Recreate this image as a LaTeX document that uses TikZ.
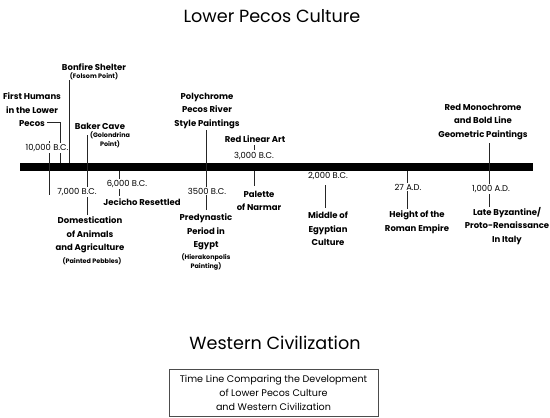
\documentclass[tikz,border=0pt]{standalone}
\usepackage{fontspec}
\setmainfont{Poppins}
\begin{document}
\begin{tikzpicture}[x=1pt,y=-1pt,
 title/.style={font=\fontsize{17.6}{20}\selectfont, inner sep=0pt},
 lbl/.style={font=\fontsize{8.5}{13.5}\selectfont\bfseries, align=center, inner sep=0pt},
 sm/.style={font=\fontsize{6.4}{9}\selectfont\bfseries, align=center, inner sep=0pt},
 yr/.style={font=\fontsize{8.4}{9}\selectfont, inner sep=1pt, fill=white},
 cp/.style={font=\fontsize{9.6}{14}\selectfont, align=center, inner sep=0pt},
 ln/.style={line width=0.7pt, black!85}]
\useasboundingbox (0,0) rectangle (550,418);
\node[title] (ttl) at (272,16) {Lower Pecos Culture};
\node[fill=black, minimum width=513pt, minimum height=8pt, inner sep=0pt] (bar) at (276.5,167) {};

% connector coordinates
\coordinate (c10k) at (49,141);
\coordinate (c10kb) at (49,195);
\coordinate (cfh1) at (47,122);
\coordinate (cfh2) at (60,122);
\coordinate (cbon) at (69,80);
\coordinate (cbak) at (87,135);
\coordinate (cbakb) at (87,215);
\coordinate (c6k) at (119,171);
\coordinate (c6kb) at (119,196);
\coordinate (cpoly) at (206,130);
\coordinate (cpolyb) at (206,210);
\coordinate (c3ka) at (254,145);
\coordinate (c3kb) at (254,150);
\coordinate (c3kc) at (254,171);
\coordinate (c3kd) at (254,186);
\coordinate (c2ka) at (325,185);
\coordinate (c2kb) at (325,208);
\coordinate (c27a) at (407,171);
\coordinate (c27b) at (407,209);
\coordinate (c1ka) at (489,143);
\coordinate (c1kb) at (489,207);

\draw[ln] (c10k) -- (c10kb);
\draw[ln] (cfh1) -- (cfh2) -- (cfh2 |- bar.north);
\draw[ln] (cbon) -- (cbon |- bar.north);
\draw[ln] (cbak) -- (cbakb);
\draw[ln] (c6k) -- (c6kb);
\draw[ln] (cpoly) -- (cpolyb);
\draw[ln] (c3ka) -- (c3kb);
\draw[ln] (c3kc) -- (c3kd);
\draw[ln] (c2ka) -- (c2kb);
\draw[ln] (c27a) -- (c27b);
\draw[ln] (c1ka) -- (c1kb);

% above the bar
\node[lbl] (fh) at (32,110) {First Humans\\in the Lower\\Pecos};
\node[lbl] (bon) at (94,67) {Bonfire Shelter};
\node[sm] (fol) at (94,76.5) {(Folsom Point)};
\node[lbl] (bak) at (100,126) {Baker Cave};
\node[sm] (gol) at (110,140) {(Golondrina\\Point)};
\node[lbl] (poly) at (207,111) {Polychrome\\Pecos River\\Style Paintings};
\node[lbl] (rla) at (255,139) {Red Linear Art};
\node[yr] (y3k) at (254,156) {3,000 B.C.};
\node[lbl] (rmono) at (483,122) {Red Monochrome\\and Bold Line\\Geometric Paintings};
\node[yr] (y10k) at (47,148) {10,000 B.C.};

% below the bar
\node[yr] (y7k) at (77,192) {7,000 B.C.};
\node[yr] (y6k) at (127,184) {6,000 B.C.};
\node[lbl] (jer) at (142,202) {Jecicho Resettled};
\node[lbl] (dom) at (90,235) {Domestication\\of Animals\\and Agriculture};
\node[sm] (peb) at (92,261) {(Painted Pebbles)};
\node[yr] (y35) at (207,191) {3500 B.C.};
\node[lbl] (pre) at (206,232) {Predynastic\\Period in\\Egypt};
\node[sm] (hie) at (206,262) {(Hierakonpolis\\Painting)};
\node[lbl] (pal) at (259,201) {Palette\\of Narmar};
\node[yr] (y2k) at (328,176) {2,000 B.C.};
\node[lbl] (mid) at (328,229) {Middle of\\Egyptian\\Culture};
\node[yr] (y27) at (408,187) {27 A.D.};
\node[lbl] (hei) at (417,222) {Height of the\\Roman Empire};
\node[yr] (y1k) at (491,189) {1,000 A.D.};
\node[lbl] (late) at (507,226) {Late Byzantine/\\Proto-Renaissance\\In Italy};

% bottom
\node[title] (wc) at (275,343) {Western Civilization};
\node[draw=black!70, line width=0.6pt, minimum width=209pt, minimum height=47pt, inner sep=0pt] (box) at (273.5,392.5) {};
\node[cp] (cap) at (box.center) {Time Line Comparing the Development\\of Lower Pecos Culture\\and Western Civilization};
\end{tikzpicture}
\end{document}
